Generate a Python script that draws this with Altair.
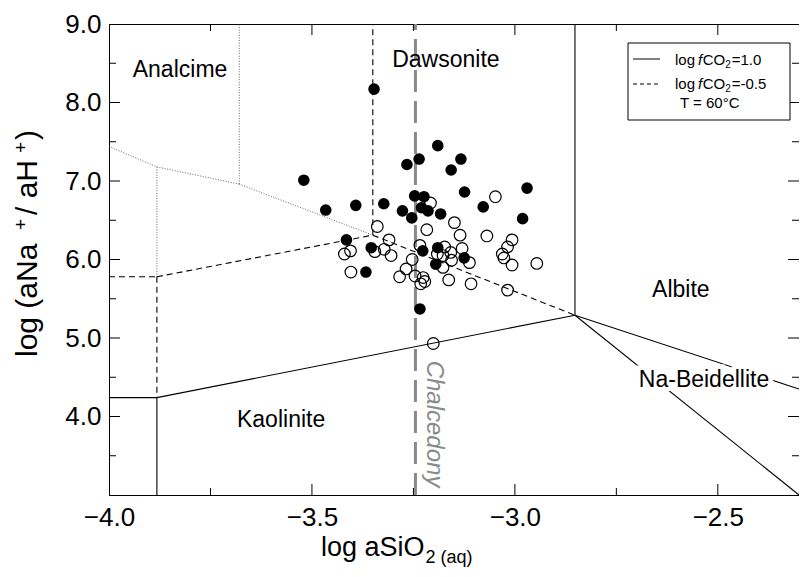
import altair as alt
import pandas as pd

# ---------------- layout constants ----------------
X_MIN, X_MAX = -4.0, -2.3
Y_MIN, Y_MAX = 3.0, 9.0
W, H = 690, 471
PAD_L, PAD_T, PAD_R, PAD_B = 101, 16, 0, 74
FONT = "Liberation Sans"


def dx(px):  # page pixel -> data x
    return X_MIN + (px - 8 - PAD_L) / W * (X_MAX - X_MIN)


def dy(py):  # page pixel -> data y
    return Y_MAX - (py - 8 - PAD_T) / H * (Y_MAX - Y_MIN)


# ---------------- data ----------------
filled_x = [-3.520, -3.466, -3.392, -3.323, -3.277, -3.254, -3.266, -3.236, -3.190, -3.133,
            -3.157, -3.124, -3.247, -3.224, -3.230, -3.214, -3.183, -3.078, -2.970, -2.981,
            -3.415, -3.354, -3.367, -3.227, -3.190, -3.195, -3.125, -3.234, -3.347]
filled_y = [7.01, 6.63, 6.69, 6.71, 6.62, 6.53, 7.21, 7.28, 7.45, 7.28,
            7.14, 6.86, 6.81, 6.80, 6.66, 6.62, 6.58, 6.67, 6.91, 6.52,
            6.25, 6.15, 5.84, 6.11, 6.15, 5.94, 6.02, 5.37, 8.17]
open_x = [-3.339, -3.310, -3.420, -3.405, -3.345, -3.322, -3.305, -3.404, -3.284, -3.268,
          -3.253, -3.246, -3.232, -3.226, -3.222, -3.234, -3.217, -3.208, -3.149, -3.135,
          -3.130, -3.173, -3.191, -3.177, -3.158, -3.156, -3.177, -3.163, -3.112, -3.108,
          -3.069, -3.048, -3.007, -3.018, -3.031, -3.027, -3.007, -2.946, -3.018, -3.201]
open_y = [6.42, 6.25, 6.07, 6.11, 6.10, 6.13, 6.05, 5.84, 5.78, 5.88,
          6.00, 5.79, 5.69, 5.77, 5.72, 6.18, 6.38, 6.72, 6.47, 6.31,
          6.14, 6.16, 6.07, 6.05, 6.09, 5.99, 5.90, 5.74, 5.96, 5.69,
          6.30, 6.80, 6.25, 6.16, 6.07, 6.02, 5.93, 5.95, 5.61, 4.93]

# phase boundaries, log fCO2 = 1.0 (solid)
solid_x1 = [-4.0, -3.882, -3.882, -2.852, -2.852, -2.852]
solid_y1 = [4.24, 4.24, 4.24, 5.29, 5.29, 5.29]
solid_x2 = [-3.882, -3.882, -2.852, -2.852, -2.3, -2.3]
solid_y2 = [4.24, 3.0, 5.29, 9.0, 4.35, 3.0]
# log fCO2 = -0.5 (dashed)
dashed_x1 = [-4.0, -3.882, -3.882, -3.35, -3.35]
dashed_y1 = [5.78, 5.78, 5.78, 6.31, 6.31]
dashed_x2 = [-3.882, -3.882, -3.35, -3.35, -2.852]
dashed_y2 = [5.78, 4.24, 6.31, 9.0, 5.29]
# analcime boundaries (dotted)
dotted_x1 = [-4.0, -3.882, -3.882, -3.679, -3.679]
dotted_y1 = [7.44, 7.18, 7.18, 6.96, 6.96]
dotted_x2 = [-3.882, -3.882, -3.679, -3.679, -3.35]
dotted_y2 = [7.18, 5.78, 6.96, 9.0, 6.31]
chalcedony_x = -3.245

region_labels = ["Analcime", "Dawsonite", "Albite", "Kaolinite"]
region_x = [-3.825, -3.170, -2.591, -3.576]
region_y = [8.33, 8.45, 5.52, 3.87]
beid_label, beid_x, beid_y = "Na-Beidellite", -2.534, 4.38

x_tick_labels = [-4.0, -3.5, -3.0, -2.5]
y_tick_labels = [4.0, 5.0, 6.0, 7.0, 8.0, 9.0]
x_minor = [-3.75, -3.25, -2.75]
y_minor = [3.5, 4.5, 5.5, 6.5, 7.5, 8.5]

# Arial / Liberation Sans advance widths (1/1000 em)
AW = {' ': 278, '(': 333, ')': 333, '/': 278, '+': 584, '-': 333, '.': 278, '=': 584,
      'a': 556, 'c': 500, 'd': 556, 'e': 556, 'g': 556, 'h': 556, 'i': 222, 'l': 222,
      'n': 556, 'o': 556, 'q': 556, 's': 500, 't': 278, 'f': 278, 'y': 500,
      'A': 667, 'C': 722, 'H': 722, 'N': 722, 'O': 778, 'S': 667, 'T': 611, '°': 400}


def tw(s, size):
    return sum(AW.get(c, 556) for c in s) / 1000.0 * size


xs = alt.Scale(domain=[X_MIN, X_MAX], nice=False, zero=False)
ys = alt.Scale(domain=[Y_MIN, Y_MAX], nice=False, zero=False)

x_axis = alt.Axis(values=x_tick_labels, format=".1f", title=None, ticks=False, grid=False,
                  domain=True, domainColor="black", domainWidth=1, labelFont=FONT,
                  labelFontSize=26, labelColor="black", labelPadding=9,
                  labelFlush=False, labelOverlap=False)
y_axis = alt.Axis(values=y_tick_labels, format=".1f", title=None, ticks=False, grid=False,
                  domain=True, domainColor="black", domainWidth=1, labelFont=FONT,
                  labelFontSize=26, labelColor="black", labelPadding=8,
                  labelFlush=False, labelOverlap=False)


def XE(f="x"):
    return alt.X(f + ":Q", scale=xs, axis=x_axis)


def YE(f="y"):
    return alt.Y(f + ":Q", scale=ys, axis=y_axis)


def seg_layer(x1, y1, x2, y2, **mk):
    df = pd.DataFrame({"x": x1, "y": y1, "x2": x2, "y2": y2})
    return alt.Chart(df).mark_rule(**mk).encode(x=XE(), y=YE(), x2="x2:Q", y2="y2:Q")


layers = []
layers.append(seg_layer(dotted_x1, dotted_y1, dotted_x2, dotted_y2,
                        color="#555", strokeWidth=0.9, strokeDash=[1, 1.6]))
layers.append(seg_layer(dashed_x1, dashed_y1, dashed_x2, dashed_y2,
                        color="black", strokeWidth=1.1, strokeDash=[6, 4]))
layers.append(seg_layer(solid_x1, solid_y1, solid_x2, solid_y2,
                        color="black", strokeWidth=1.1))
layers.append(seg_layer([chalcedony_x], [Y_MIN], [chalcedony_x], [Y_MAX],
                        color="#8a8a8a", strokeWidth=3, strokeDash=[22, 9]))

# frame ticks (inward)
ux = (X_MAX - X_MIN) / W
uy = (Y_MAX - Y_MIN) / H
tx1, ty1, tx2, ty2 = [], [], [], []
for v in x_tick_labels[1:] + x_minor:
    L = 11 if v in x_tick_labels else 7
    tx1 += [v, v]; tx2 += [v, v]
    ty1 += [Y_MIN, Y_MAX]; ty2 += [Y_MIN + L * uy, Y_MAX - L * uy]
for v in y_tick_labels[:-1] + y_minor:
    L = 11 if v in y_tick_labels else 7
    ty1 += [v, v]; ty2 += [v, v]
    tx1 += [X_MIN, X_MAX]; tx2 += [X_MIN + L * ux, X_MAX - L * ux]
layers.append(seg_layer(tx1, ty1, tx2, ty2, color="black", strokeWidth=1))

# legend box
box = pd.DataFrame({"x": [dx(628)], "x2": [dx(790)], "y": [dy(43)], "y2": [dy(120)]})
layers.append(alt.Chart(box).mark_rect(fill="white", stroke="black", strokeWidth=1).encode(
    x=XE(), x2="x2:Q", y=YE(), y2="y2:Q"))
layers.append(seg_layer([dx(633)], [dy(59)], [dx(660)], [dy(59)], color="black", strokeWidth=1))
layers.append(seg_layer([dx(633)], [dy(84)], [dx(660)], [dy(84)], color="black",
                        strokeWidth=1, strokeDash=[4, 3]))

# ---------- text pieces (normal / italic), left aligned ----------
normal_rows = []
italic_rows = []
LS = 15
for base, val in [(65, "=1.0"), (89, "=-0.5")]:
    px = 675
    normal_rows.append((dx(px), dy(base), "log", LS, 0)); px += tw("log", LS) + 3
    italic_rows.append((dx(px), dy(base), "f", LS, 0)); px += tw("f", LS) + 0.5
    normal_rows.append((dx(px), dy(base), "CO", LS, 0)); px += tw("CO", LS)
    normal_rows.append((dx(px), dy(base + 3), "2", 10, 0)); px += tw("2", 10) + 1
    normal_rows.append((dx(px), dy(base), val, LS, 0))
normal_rows.append((dx(680), dy(108), "T = 60°C", LS, 0))

# x axis title
XT = 27
normal_rows.append((dx(321), dy(556), "log aSiO", XT, 0))
normal_rows.append((dx(321 + tw("log aSiO", XT) + 1), dy(563), "2 (aq)", 18, 0))
# y axis title (rotated, reads upward)
for txt, size, bx, start in [("log  (aNa", 30, 37, 357), ("+", 19, 27, 230),
                             ("/ aH", 30, 37, 215), ("+", 19, 27, 153), (")", 30, 37, 140)]:
    normal_rows.append((dx(bx), dy(start), txt, size, 270))


def text_layer(rows, **mk):
    df = pd.DataFrame(rows, columns=["x", "y", "t", "s", "a"])
    return alt.Chart(df).mark_text(align="left", baseline="alphabetic", font=FONT,
                                   color="black", **mk).encode(
        x=XE(), y=YE(), text="t:N", size=alt.Size("s:Q", scale=None, legend=None),
        angle=alt.Angle("a:Q", scale=None))


layers.append(text_layer(normal_rows))
layers.append(text_layer(italic_rows, fontStyle="italic"))

# region labels
reg = pd.DataFrame({"x": region_x, "y": region_y, "t": region_labels})
layers.append(alt.Chart(reg).mark_text(align="center", baseline="alphabetic", font=FONT,
                                       fontSize=23, color="black").encode(
    x=XE(), y=YE(), text="t:N"))
beid = pd.DataFrame({"x": [beid_x], "y": [beid_y], "t": [beid_label]})
layers.append(alt.Chart(beid).mark_text(align="center", baseline="alphabetic", font=FONT,
                                        fontSize=23, color="white", stroke="white",
                                        strokeWidth=9).encode(x=XE(), y=YE(), text="t:N"))
layers.append(alt.Chart(beid).mark_text(align="center", baseline="alphabetic", font=FONT,
                                        fontSize=23, color="black").encode(
    x=XE(), y=YE(), text="t:N"))
chal = pd.DataFrame({"x": [dx(427)], "y": [dy(424)], "t": ["Chalcedony"]})
layers.append(alt.Chart(chal).mark_text(align="center", baseline="alphabetic", font=FONT,
                                        fontSize=24, fontStyle="italic", angle=90,
                                        color="#8a8a8a").encode(x=XE(), y=YE(), text="t:N"))

# ---------------- points ----------------
odf = pd.DataFrame({"x": open_x, "y": open_y})
fdf = pd.DataFrame({"x": filled_x, "y": filled_y})
layers.append(alt.Chart(odf).mark_point(shape="circle", filled=False, size=135,
                                        color="black", strokeWidth=1.2, opacity=1).encode(
    x=XE(), y=YE()))
layers.append(alt.Chart(fdf).mark_point(shape="circle", filled=True, size=135,
                                        color="black", opacity=1).encode(x=XE(), y=YE()))

chart = alt.layer(*layers).properties(
    width=W, height=H,
    autosize=alt.AutoSizeParams(type="none"),
    padding={"left": PAD_L, "top": PAD_T, "right": PAD_R, "bottom": PAD_B},
    background="white",
).configure_view(stroke="black", strokeWidth=1)

chart.save("out.html", embed_options={"renderer": "svg", "actions": False})
